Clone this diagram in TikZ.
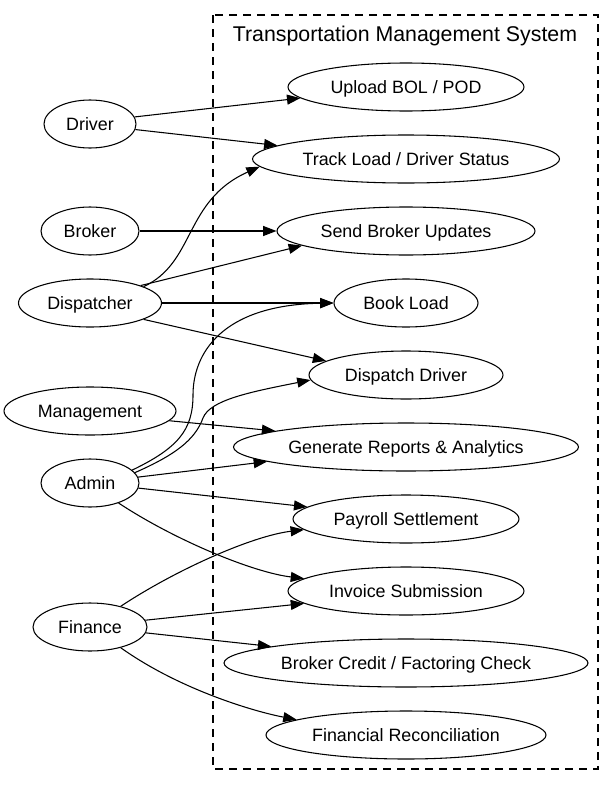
\documentclass[tikz,border=0pt]{standalone}
\usepackage{fontspec}
\setmainfont{Liberation Sans}
\usetikzlibrary{arrows.meta,shapes.geometric}

\begin{document}
\begin{tikzpicture}[x=0.75pt,y=-0.75pt,
    actor/.style={draw,ellipse,inner sep=0pt,minimum height=36pt,line width=0.8pt,
      text height=9.6pt,text depth=0pt,font=\fontsize{13.4}{16}\selectfont},
    usecase/.style={actor},
    uses/.style={draw,line width=0.8pt,-{Triangle[length=10pt,width=7.5pt]}}]
  \useasboundingbox (0,0) rectangle (614,785);
  % system boundary
  \draw[dash pattern=on 6pt off 4.5pt,line width=0.8pt] (213,15) rectangle (598,769);
  \node[font=\fontsize{16}{19}\selectfont,text height=11.5pt,text depth=0pt] (title) at (405,34) {Transportation Management System};
  % actors
  \foreach \name/\y/\w/\txt in {driver/124/69/Driver, broker/231/73.5/Broker,
      disp/303/107.25/Dispatcher, mgmt/411/129/Management,
      admin/483/73.5/Admin, finance/627/85.5/Finance}
    \node[actor,minimum width=\w pt] (\name) at (90,\y) {\txt};
  % use cases
  \foreach \name/\y/\w/\txt in {upload/87/177/{Upload BOL / POD},
      track/159/230.25/{Track Load / Driver Status},
      sendupd/231/193.5/{Send Broker Updates}, book/303/108/{Book Load},
      dispdrv/375/145.5/{Dispatch Driver},
      reports/447/258.75/{Generate Reports \& Analytics},
      payroll/519/169.5/{Payroll Settlement}, invoice/591/177/{Invoice Submission},
      credit/663/273/{Broker Credit / Factoring Check},
      recon/735/210/{Financial Reconciliation}}
    \node[usecase,minimum width=\w pt] (\name) at (406,\y) {\txt};
  % associations
  \draw[uses] (driver.9) -- (upload.186);
  \draw[uses] (driver.-7) -- (track.174);
  \draw[uses] (broker.east) -- (sendupd.west);
  \draw[uses] (disp.17) .. controls +(52,-24) and +(-76,34) .. (track.183);
  \draw[uses] (disp.19) -- (sendupd.188);
  \draw[uses] (disp.east) -- (book.west);
  \draw[uses] (disp.-17) -- (dispdrv.170);
  \draw[uses] (mgmt.-7) -- (reports.173);
  \draw[uses] (admin.17) .. controls (178,448) and (193,430) .. (193,395)
    .. controls (193,355) and (220,305) .. (book.west);
  \draw[uses] (admin.13) .. controls (175,455) and (195,440) .. (203,418)
    .. controls (210,400) and (250,392) .. (dispdrv.183);
  \draw[uses] (admin.7) -- (reports.186);
  \draw[uses] (admin.-6) -- (payroll.173);
  \draw[uses] (admin.-35) .. controls +(56,37) and +(-51,-6) .. (invoice.173);
  \draw[uses] (finance.34) .. controls +(56,-37) and +(-51,6) .. (payroll.186);
  \draw[uses] (finance.7) -- (invoice.187);
  \draw[uses] (finance.-6) -- (credit.173);
  \draw[uses] (finance.-34) .. controls +(59,42) and +(-42,-8) .. (recon.172);
\end{tikzpicture}
\end{document}
